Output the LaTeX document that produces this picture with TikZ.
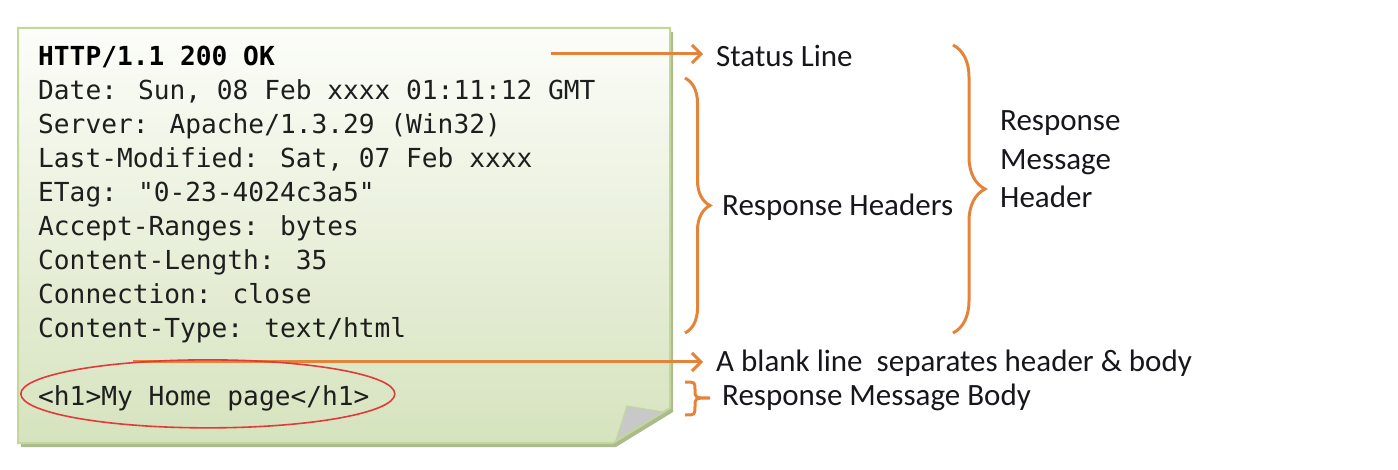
\documentclass[tikz,border=0pt]{standalone}
\usepackage{fontspec}
\setmainfont{Carlito}
\newfontfamily\codefont{DejaVu Sans Mono}
\usepackage{xcolor}
\usetikzlibrary{arrows.meta,decorations.pathreplacing}

\definecolor{orangeline}{RGB}{228,132,58}
\definecolor{cardborder}{RGB}{196,215,155}
\definecolor{cardtop}{RGB}{252,253,249}
\definecolor{cardbottom}{RGB}{214,227,190}
\definecolor{cardshadow}{RGB}{172,186,142}
\definecolor{foldgray}{RGB}{200,200,200}
\definecolor{ovalred}{RGB}{226,58,58}
\definecolor{codetext}{RGB}{30,30,30}
\definecolor{lbltext}{RGB}{22,22,28}

\begin{document}
\begin{tikzpicture}[x=1pt,y=-1pt,
  code/.style={anchor=base west, inner sep=0pt, text=codetext, font=\codefont\fontsize{26.2}{30}\selectfont},
  codebold/.style={code, text=black, font=\codefont\bfseries\fontsize{26.2}{30}\selectfont},
  lbl/.style={anchor=base west, inner sep=0pt, text=lbltext, font=\fontsize{31}{38.5}\selectfont},
  pointer/.style={draw=orangeline, line width=3pt, shorten >=13pt, -{Straight Barb[length=9pt,width=18pt]}},
  bracer/.style={draw=orangeline, line width=3pt, decorate, decoration={brace, amplitude=25pt}},
  oval/.style={draw=ovalred, line width=1.6pt}]

\useasboundingbox (0,0) rectangle (1398,470);

% Note card
\fill[cardshadow] (21,32) -- (673,32) -- (673,412) -- (616,447) -- (21,447) -- cycle;
\draw[cardborder, line width=2pt, top color=cardtop, bottom color=cardbottom]
  (18,28) -- (670,28) -- (670,408) -- (613,443) -- (18,443) -- cycle;

% Folded corner
\draw[cardborder, line width=1pt, fill=foldgray] (627,406) -- (664,412) -- (616,440) -- cycle;

% Response text
\node[codebold] (statusln) at (38,66) {HTTP/1.1 200 OK};
\node[code] (date) at (38,99.9) {Date: Sun, 08 Feb xxxx 01:11:12 GMT};
\node[code] (server) at (38,133.8) {Server: Apache/1.3.29 (Win32)};
\node[code] (lastmod) at (38,167.7) {Last-Modified: Sat, 07 Feb xxxx};
\node[code] (etag) at (38,201.6) {ETag: "0-23-4024c3a5"};
\node[code] (ranges) at (38,235.5) {Accept-Ranges: bytes};
\node[code] (length) at (38,269.4) {Content-Length: 35};
\node[code] (conn) at (38,303.3) {Connection: close};
\node[code] (ctype) at (38,337.2) {Content-Type: text/html};
\node[code] (body) at (38,405) {<h1>My Home page</h1>};

% Labels
\node[lbl] (lblstatus) at (716,67) {Status Line};
\node[lbl] (lblheaders) at (722,216) {Response Headers};
\node[lbl, anchor=north west, align=left] (lblresp) at (1000,110.5) {Response\\Message\\Header};
\node[lbl] (lblblank) at (716,371) {A blank line\hspace{7pt} separates header \& body};
\node[lbl] (lblbody) at (722,405) {Response Message Body};

% Pointers
\coordinate (statusfrom) at (551,54);
\draw[pointer] (statusfrom) -- (statusfrom -| lblstatus.west);
\coordinate (blankfrom) at (133,362);
\draw[pointer] (blankfrom) -- (blankfrom -| lblblank.west);

% Braces
\coordinate (hdrtop) at (685,78);
\coordinate (hdrbot) at (685,333);
\draw[bracer] (hdrtop) -- (hdrbot);
\coordinate (msgtop) at (953,45);
\coordinate (msgbot) at (953,333);
\draw[bracer, decoration={brace, amplitude=32pt}] (msgtop) -- (msgbot);
\coordinate (bodytop) at (685,382);
\coordinate (bodybot) at (685,415);
\draw[orangeline, line width=3pt] (bodytop) .. controls (695,382) .. (695,390)
  .. controls (695,398) .. (710,398) .. controls (695,398) .. (695,406)
  .. controls (695,415) .. (bodybot);

% Body mark
\draw[oval] ([shift={(4pt,4pt)}]body.center) ellipse [x radius=187pt, y radius=34pt];

\end{tikzpicture}
\end{document}
